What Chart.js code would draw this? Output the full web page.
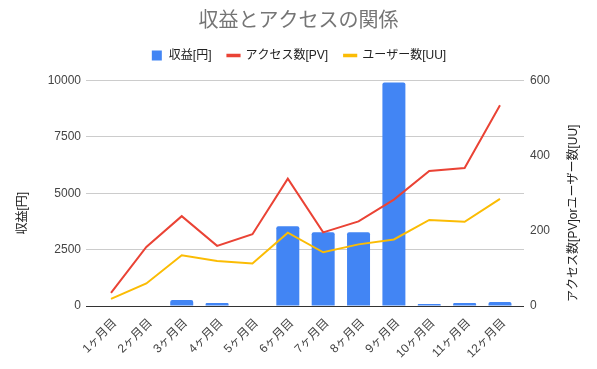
<!DOCTYPE html>
<html><head><meta charset="utf-8">
<script src="https://cdn.jsdelivr.net/npm/chart.js@4"></script>
<style>html,body{margin:0;padding:0;background:#fff}</style>
</head><body>
<canvas id="c" width="597" height="369"></canvas>
<script>
const categories = ['1ヶ月目','2ヶ月目','3ヶ月目','4ヶ月目','5ヶ月目','6ヶ月目','7ヶ月目','8ヶ月目','9ヶ月目','10ヶ月目','11ヶ月目','12ヶ月目'];
const revenue = [0, 0, 270, 130, 0, 3540, 3270, 3270, 9910, 90, 130, 180];
const pageViews = [35, 157, 239, 160, 191, 339, 196, 225, 283, 359, 367, 534];
const users = [19, 60, 135, 120, 113, 195, 143, 164, 177, 229, 224, 285];
const seriesNames = ['収益[円]', 'アクセス数[PV]', 'ユーザー数[UU]'];
const titleText = '収益とアクセスの関係';
const leftAxisTitle = '収益[円]';
const rightAxisTitle = 'アクセス数[PV]orユーザー数[UU]';

const FONT = "Arial, 'Liberation Sans', 'Noto Sans CJK JP', sans-serif";
Chart.defaults.font.family = FONT;
Chart.defaults.font.size = 12;

const toXY = arr => arr.map((v, i) => ({x: i, y: v}));

const spacerPlugin = {
  id: 'spacer',
  beforeInit(chart) {
    const box = {
      position: 'top', weight: 1, fullSize: true, options: {},
      update(maxWidth) { this.width = maxWidth; this.height = 9; },
      isHorizontal() { return true; },
      draw() {}
    };
    Chart.layouts.addBox(chart, box);
  }
};

const axisTitlePlugin = {
  id: 'axisTitles',
  afterDraw(chart) {
    const ctx = chart.ctx;
    const a = chart.chartArea;
    const cy = (a.top + a.bottom) / 2 + 20;
    ctx.save();
    ctx.font = '12px ' + FONT;
    ctx.fillStyle = '#222';
    ctx.textAlign = 'center';
    ctx.textBaseline = 'middle';
    [[leftAxisTitle, 22.5], [rightAxisTitle, 574]].forEach(([t, x]) => {
      ctx.save();
      ctx.translate(x, cy);
      ctx.rotate(-Math.PI / 2);
      ctx.fillText(t, 0, 0);
      ctx.restore();
    });
    ctx.restore();
  }
};

new Chart(document.getElementById('c'), {
  type: 'bar',
  data: {
    datasets: [
      {type: 'bar', label: seriesNames[0], data: toXY(revenue), yAxisID: 'y', backgroundColor: '#4285F4',
       barPercentage: 0.65, categoryPercentage: 1, borderRadius: {topLeft: 2, topRight: 2}, borderSkipped: 'bottom', order: 1},
      {type: 'line', label: seriesNames[1], data: toXY(pageViews), yAxisID: 'y1', borderColor: '#EA4335', backgroundColor: '#EA4335',
       borderWidth: 2, pointRadius: 0, pointStyle: 'line', tension: 0, order: 0},
      {type: 'line', label: seriesNames[2], data: toXY(users), yAxisID: 'y1', borderColor: '#FBBC04', backgroundColor: '#FBBC04',
       borderWidth: 2, pointRadius: 0, pointStyle: 'line', tension: 0, order: 0}
    ]
  },
  options: {
    responsive: false,
    animation: false,
    devicePixelRatio: 1,
    layout: {padding: 0},
    plugins: {
      tooltip: {enabled: false},
      title: {display: true, text: titleText, color: '#757575', font: {size: 20, weight: 'normal'}, padding: {top: 9.5, bottom: 0}},
      legend: {
        display: true,
        labels: {
          color: '#222', font: {size: 12}, usePointStyle: true, boxWidth: 12, boxHeight: 10, padding: 16,
          sort: (a, b) => a.datasetIndex - b.datasetIndex,
          generateLabels(chart) {
            const items = Chart.defaults.plugins.legend.labels.generateLabels(chart);
            items.forEach(it => {
              if (it.datasetIndex === 0) { it.pointStyle = 'rect'; it.lineWidth = 0; }
              else { it.pointStyle = 'line'; it.lineWidth = 3.5; }
            });
            return items;
          }
        }
      }
    },
    scales: {
      x: {
        type: 'linear', offset: false, min: -0.707, max: 11.679,
        afterFit(s) { s.height = 63; },
        afterBuildTicks(s) { s.ticks = s.ticks.filter(t => Number.isInteger(t.value) && t.value >= 0 && t.value < categories.length); },
        grid: {display: false, drawTicks: false},
        border: {display: false},
        ticks: {stepSize: 1, autoSkip: false, minRotation: 45, maxRotation: 45, color: '#444', padding: 10, labelOffset: 4,
                callback: v => categories[v]}
      },
      y: {
        position: 'left', min: 0, max: 10000,
        afterFit(s) { s.width = 86; },
        grid: {drawTicks: false, color: c => (c.tick && c.tick.value === 0) ? '#333' : '#ccc'},
        border: {display: false},
        ticks: {stepSize: 2500, color: '#444', padding: 5, callback: v => String(v)}
      },
      y1: {
        position: 'right', min: 0, max: 600,
        afterFit(s) { s.width = 73; },
        grid: {display: false, drawTicks: false},
        border: {display: false},
        ticks: {stepSize: 200, color: '#444', padding: 6, callback: v => String(v)}
      }
    }
  },
  plugins: [spacerPlugin, axisTitlePlugin]
});
</script>
</body></html>
